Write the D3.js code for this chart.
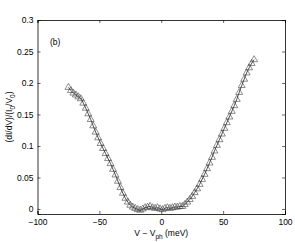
<!DOCTYPE html>
<html>
<head>
<meta charset="utf-8">
<script src="https://cdn.jsdelivr.net/npm/d3@7"></script>
<style>
  body { margin: 0; background: #fff; }
  svg { display: block; font-family: "Liberation Sans", Arial, sans-serif; }
</style>
</head>
<body>
<div id="chart"></div>
<script>
// bias voltage relative to phonon energy (meV)
const voltage = [-75, -73, -71, -69, -67, -65, -63, -61, -59, -57, -55, -53, -51, -49, -47, -45, -43, -41, -39, -37,
  -35, -33, -31, -29, -27, -25, -23, -21, -19, -17, -15, -13, -11, -9, -7, -5, -3, -1,
  1, 3, 5, 7, 9, 11, 13, 15, 17, 19, 21, 23, 25, 27, 29, 31, 33, 35, 37, 39,
  41, 43, 45, 47, 49, 51, 53, 55, 57, 59, 61, 63, 65, 67, 69, 71, 73, 75];
// normalised conductance
const conductance = [0.193, 0.188, 0.184, 0.181, 0.178, 0.175, 0.168, 0.160, 0.151, 0.142, 0.132, 0.122, 0.113, 0.104, 0.096, 0.088, 0.080, 0.072, 0.063, 0.054,
  0.044, 0.034, 0.025, 0.017, 0.011, 0.006, 0.003, 0.001, -0.001, -0.002, 0.000, 0.002, 0.003, 0.004, 0.002, 0.001, 0.002, 0.000,
  -0.001, 0.001, 0.002, 0.001, 0.002, 0.003, 0.003, 0.004, 0.004, 0.007, 0.011, 0.015, 0.020, 0.026, 0.032, 0.039, 0.047, 0.055, 0.064, 0.073,
  0.082, 0.092, 0.101, 0.110, 0.119, 0.128, 0.137, 0.146, 0.155, 0.164, 0.174, 0.185, 0.196, 0.206, 0.216, 0.224, 0.231, 0.237];

const xTicks = [-100, -50, 0, 50, 100];
const yTicks = [0, 0.05, 0.1, 0.15, 0.2, 0.25, 0.3];

const width = 295, height = 242;
const margin = {top: 20, right: 10, bottom: 28, left: 37.5};

const data = voltage.map((v, i) => ({v: v, g: conductance[i]}));

const svg = d3.select("#chart").append("svg")
    .attr("width", width)
    .attr("height", height);

const x = d3.scaleLinear().domain([-100, 100]).range([margin.left, width - margin.right]);
const y = d3.scaleLinear().domain([-0.008, 0.3]).range([height - margin.bottom, margin.top]);

const fmt = d => d === 0 ? "0" : String(d).replace("-", "\u2212");

// axes, ticks pointing inwards, mirrored on the top and right
svg.append("g")
    .attr("transform", `translate(0,${y.range()[0]})`)
    .call(d3.axisBottom(x).tickValues(xTicks).tickSize(-3).tickPadding(5).tickFormat(fmt));
svg.append("g")
    .attr("transform", `translate(0,${margin.top})`)
    .call(d3.axisTop(x).tickValues(xTicks).tickSize(-3).tickFormat(""));
svg.append("g")
    .attr("transform", `translate(${margin.left},0)`)
    .call(d3.axisLeft(y).tickValues(yTicks).tickSize(-3).tickPadding(4).tickFormat(fmt));
svg.append("g")
    .attr("transform", `translate(${width - margin.right},0)`)
    .call(d3.axisRight(y).tickValues(yTicks).tickSize(-3).tickFormat(""));

svg.selectAll(".domain").attr("stroke", "#000").attr("stroke-width", 0.8);
svg.selectAll(".tick line").attr("stroke", "#000").attr("stroke-width", 0.6);
svg.selectAll(".tick text").attr("font-size", 8.5).attr("fill", "#000");

// fit line under the markers
svg.append("path")
    .datum(data)
    .attr("fill", "none")
    .attr("stroke", "#000")
    .attr("stroke-width", 0.7)
    .attr("d", d3.line().x(d => x(d.v)).y(d => y(d.g)).curve(d3.curveMonotoneX));

const tri = d3.symbol().type(d3.symbolTriangle).size(21);
svg.append("g")
  .selectAll("path")
  .data(data)
  .enter().append("path")
    .attr("transform", d => `translate(${x(d.v)},${y(d.g)})`)
    .attr("d", tri)
    .attr("fill", "none")
    .attr("stroke", "#333")
    .attr("stroke-width", 0.55);

svg.append("text")
    .attr("x", 50).attr("y", 45)
    .attr("font-size", 8.5)
    .text("(b)");

const xl = svg.append("text")
    .attr("x", (x.range()[0] + x.range()[1]) / 2)
    .attr("y", 236)
    .attr("text-anchor", "middle")
    .attr("font-size", 8.5)
    .attr("fill", "#000");
xl.append("tspan").text("V \u2212 V");
xl.append("tspan").attr("font-size", 6.5).attr("dy", 2.5).text("ph");
xl.append("tspan").attr("dy", -2.5).text(" (meV)");

const yl = svg.append("text")
    .attr("transform", `translate(12,${(y.range()[0] + y.range()[1]) / 2}) rotate(-90)`)
    .attr("text-anchor", "middle")
    .attr("font-size", 8.5)
    .attr("fill", "#000");
yl.append("tspan").text("(dI/dV)/(I");
yl.append("tspan").attr("font-size", 6.5).attr("dy", 2.5).text("0");
yl.append("tspan").attr("dy", -2.5).text("/V");
yl.append("tspan").attr("font-size", 6.5).attr("dy", 2.5).text("0");
yl.append("tspan").attr("dy", -2.5).text(")");
</script>
</body>
</html>
